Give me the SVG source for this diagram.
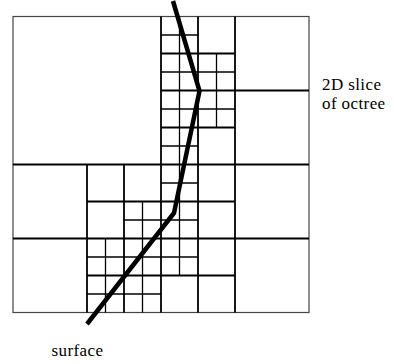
<svg xmlns="http://www.w3.org/2000/svg" width="394" height="364" viewBox="0 0 394 364">
<style>
.border{fill:none;stroke:#444;stroke-width:1.2}
.major{stroke:#000;stroke-width:1.8;fill:none}
.minor{stroke:#000;stroke-width:1.3;fill:none}
.surface{stroke:#000;stroke-width:4.5;fill:none;stroke-linejoin:round}
.label{font-family:"Liberation Serif","Times New Roman","DejaVu Serif",serif;font-size:17px;letter-spacing:0.4px;fill:#000}
</style>
<rect fill="#fff" x="0" y="0" width="394" height="364"/>
<g id="octree-grid">
<rect class="border" x="13" y="16.5" width="296" height="296"/>
<g id="major-lines">
<line class="major" x1="161" y1="16.5" x2="161" y2="312.5"/>
<line class="major" x1="13" y1="164.5" x2="309" y2="164.5"/>
<line class="major" x1="235" y1="16.5" x2="235" y2="312.5"/>
<line class="major" x1="161" y1="90.5" x2="309" y2="90.5"/>
<line class="major" x1="87" y1="164.5" x2="87" y2="312.5"/>
<line class="major" x1="13" y1="238.5" x2="309" y2="238.5"/>
<line class="major" x1="198" y1="16.5" x2="198" y2="312.5"/>
<line class="major" x1="161" y1="53.5" x2="235" y2="53.5"/>
<line class="major" x1="161" y1="127.5" x2="235" y2="127.5"/>
<line class="major" x1="124" y1="164.5" x2="124" y2="312.5"/>
<line class="major" x1="87" y1="201.5" x2="235" y2="201.5"/>
<line class="major" x1="87" y1="275.5" x2="235" y2="275.5"/>
</g>
<g id="minor-lines">
<line class="minor" x1="179.5" y1="16.5" x2="179.5" y2="164.5"/>
<line class="minor" x1="161" y1="35" x2="198" y2="35"/>
<line class="minor" x1="161" y1="72" x2="235" y2="72"/>
<line class="minor" x1="161" y1="109" x2="235" y2="109"/>
<line class="minor" x1="161" y1="146" x2="198" y2="146"/>
<line class="minor" x1="216.5" y1="53.5" x2="216.5" y2="127.5"/>
<line class="minor" x1="142.5" y1="201.5" x2="142.5" y2="312.5"/>
<line class="minor" x1="105.5" y1="238.5" x2="105.5" y2="312.5"/>
<line class="minor" x1="124" y1="220" x2="198" y2="220"/>
<line class="minor" x1="87" y1="257" x2="198" y2="257"/>
<line class="minor" x1="87" y1="294" x2="161" y2="294"/>
<line class="minor" x1="161" y1="183" x2="198" y2="183"/>
<line class="minor" x1="179.5" y1="164.5" x2="179.5" y2="275.5"/>
</g>
</g>
<g id="connectors">
<polyline class="surface" points="173,1 199.5,91 174,213 87,324"/>
</g>
<g id="label-slice">
<text class="label" x="322" y="90">2D slice</text>
<text class="label" x="322" y="109">of octree</text>
</g>
<g id="label-surface">
<text class="label" x="51.5" y="356">surface</text>
</g>
</svg>
